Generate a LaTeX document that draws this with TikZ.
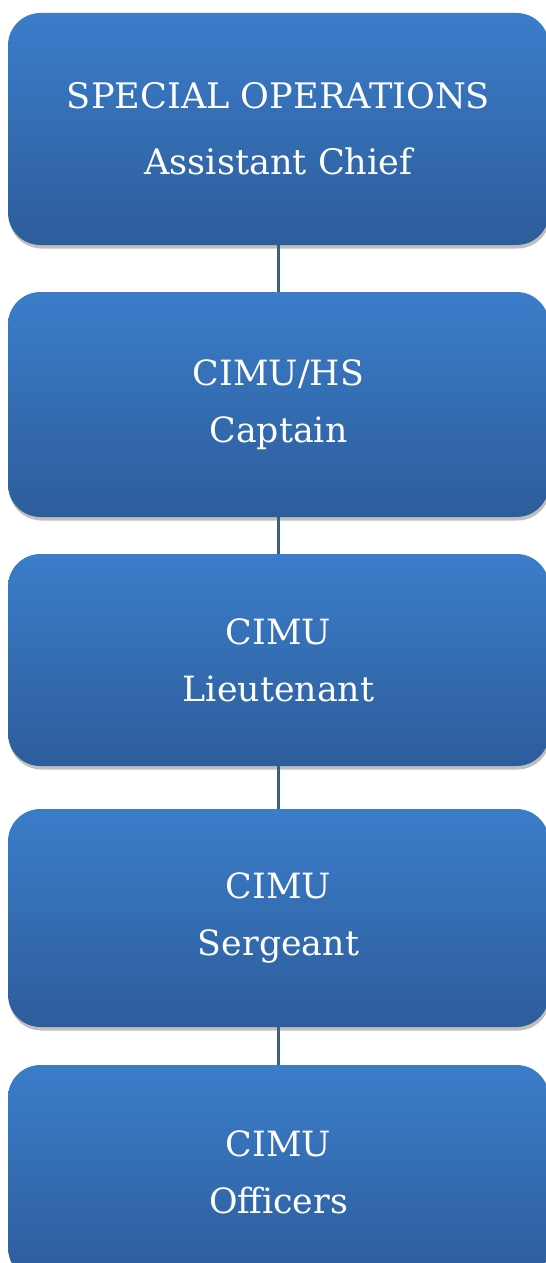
\documentclass[tikz,border=0pt]{standalone}
\usepackage{fontspec}
\setmainfont{DejaVu Serif}
\usetikzlibrary{shadows}

\definecolor{boxtop}{RGB}{59,125,202}
\definecolor{boxbottom}{RGB}{45,93,155}
\definecolor{linkblue}{RGB}{60,95,138}

\begin{document}
\begin{tikzpicture}[
    rank/.style={rectangle, rounded corners=0.65cm, draw=none,
        top color=boxtop, bottom color=boxbottom,
        drop shadow={shadow xshift=0.6pt, shadow yshift=-2pt, opacity=0.25, fill=black},
        minimum width=10.82cm, inner sep=0pt, align=center,
        text=white, font=\fontsize{19.8}{32.4}\selectfont},
    link/.style={draw=linkblue, line width=1.2pt}
  ]

    % --- Page frame (546 x 1263 px, 1px = 0.02cm) ---
    \useasboundingbox (0,0) rectangle (10.92,-25.26);

    % --- Boxes ---
    \node[rank, minimum height=4.64cm, font=\fontsize{20}{37.5}\selectfont]
        (chief) at (5.57,-2.58) {SPECIAL OPERATIONS\\Assistant Chief};
    \node[rank, minimum height=4.50cm] (captain) at (5.57,-8.09) {CIMU/HS\\Captain};
    \node[rank, minimum height=4.24cm] (lieut) at (5.57,-13.20) {CIMU\\Lieutenant};
    \node[rank, minimum height=4.36cm] (sergeant) at (5.57,-18.36) {CIMU\\Sergeant};
    \node[rank, minimum height=4.30cm] (officers) at (5.57,-23.45) {CIMU\\Officers};

    % --- Connectors ---
    \draw[link] (chief.south) -- (captain.north);
    \draw[link] (captain.south) -- (lieut.north);
    \draw[link] (lieut.south) -- (sergeant.north);
    \draw[link] (sergeant.south) -- (officers.north);

\end{tikzpicture}
\end{document}
